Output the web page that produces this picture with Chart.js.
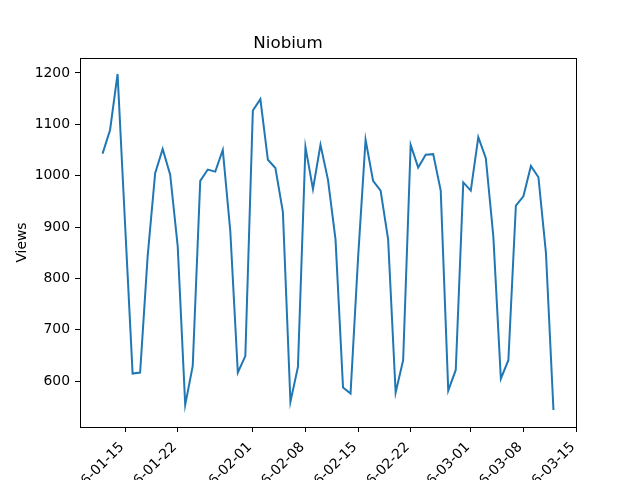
<!DOCTYPE html>
<html>
<head>
<meta charset="utf-8">
<script src="https://cdn.jsdelivr.net/npm/chart.js@4"></script>
<style>
  body { margin: 0; background: #fff; }
</style>
</head>
<body>
<canvas id="viewsChart" width="640" height="480"></canvas>
<script>
// 資料
const chartTitle = "Niobium";
const yTitle = "Views";
const startDate = "2016-01-12";   // 第一筆資料的日期，之後每天一筆
const views = [
  1043, 1089, 1198, 905, 615, 617, 843, 1005, 1052, 1002,
  863, 554, 630, 990, 1012, 1008, 1050, 892, 617, 649,
  1127, 1149, 1031, 1015, 929, 560, 628, 1056, 974, 1060,
  992, 876, 588, 576, 840, 1070, 990, 971, 876, 578,
  641, 1060, 1016, 1041, 1042, 971, 582, 622, 987, 971,
  1075, 1034, 882, 605, 641, 942, 960, 1019, 997, 850,
  544
];
const xTickLabels = ["2016-01-15", "2016-01-22", "2016-02-01", "2016-02-08",
  "2016-02-15", "2016-02-22", "2016-03-01", "2016-03-08", "2016-03-15"];
const xRange = ["2016-01-09", "2016-03-15"];
const yTicks = [600, 700, 800, 900, 1000, 1100, 1200];
const yRange = [511, 1229];

// 日期換算成天數
const DAY = 86400000;
const origin = Date.parse(xRange[0] + "T00:00:00Z");
const toDay = s => (Date.parse(s + "T00:00:00Z") - origin) / DAY;
const fmt = d => new Date(origin + d * DAY).toISOString().slice(0, 10);

const firstDay = toDay(startDate);
const points = views.map((v, i) => ({ x: firstDay + i, y: v }));
const xTickDays = xTickLabels.map(toDay);

const font = { family: "DejaVu Sans", size: 13.9 };

// 畫出上、右邊框
const frame = {
  id: "frame",
  afterDraw(chart) {
    const a = chart.chartArea;
    const c = chart.ctx;
    c.save();
    c.strokeStyle = "#000";
    c.lineWidth = 1;
    c.strokeRect(Math.round(a.left) + 0.5, Math.round(a.top) + 0.5,
      Math.round(a.right - a.left), Math.round(a.bottom - a.top));
    c.restore();
  }
};

new Chart(document.getElementById("viewsChart"), {
  type: "line",
  data: {
    datasets: [{
      data: points,
      borderColor: "#1f77b4",
      borderWidth: 2,
      pointRadius: 0,
      tension: 0,
      fill: false
    }]
  },
  options: {
    responsive: false,
    animation: false,
    devicePixelRatio: 1,
    layout: { padding: { left: 0, right: 64, top: 0, bottom: 0 } },
    plugins: {
      legend: { display: false },
      tooltip: { enabled: false },
      title: {
        display: true,
        text: chartTitle,
        color: "#000",
        font: { family: "DejaVu Sans", size: 16.7, weight: "normal" },
        padding: { top: 34, bottom: 4 }
      }
    },
    scales: {
      x: {
        type: "linear",
        min: toDay(xRange[0]),
        max: toDay(xRange[1]),
        afterBuildTicks: s => { s.ticks = xTickDays.map(v => ({ value: v })); },
        afterFit: s => { s.height = 53; },
        border: { display: false },
        grid: { drawOnChartArea: false, drawTicks: true, tickLength: 5, color: "#000" },
        ticks: {
          color: "#000",
          font: font,
          padding: 4,
          autoSkip: false,
          minRotation: 45,
          maxRotation: 45,
          callback: v => fmt(v) + " "
        }
      },
      y: {
        min: yRange[0],
        max: yRange[1],
        afterBuildTicks: s => { s.ticks = yTicks.map(v => ({ value: v })); },
        afterFit: s => { s.width = 80; },
        border: { display: false },
        grid: { drawOnChartArea: false, drawTicks: true, tickLength: 5, color: "#000" },
        title: {
          display: true,
          text: yTitle,
          color: "#000",
          font: font,
          padding: { top: 14, bottom: 0 }
        },
        ticks: { color: "#000", font: font, padding: 5, callback: v => String(v) }
      }
    }
  },
  plugins: [frame]
});
</script>
</body>
</html>
